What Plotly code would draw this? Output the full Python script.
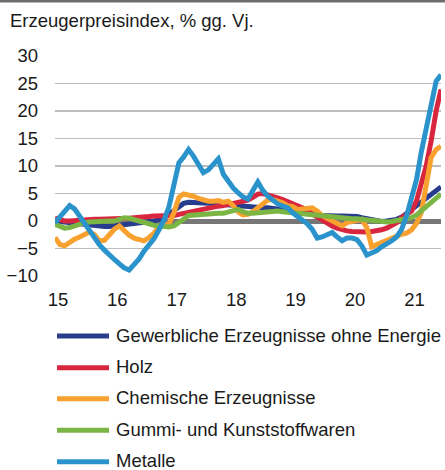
import pandas as pd
import plotly.graph_objects as go

months = pd.date_range("2015-01-01", periods=79, freq="MS")
tick_dates = ["2015-01-19", "2016-01-19", "2017-01-19", "2018-01-19", "2019-01-19", "2020-01-19", "2021-01-19"]
tick_labels = ["15", "16", "17", "18", "19", "20", "21"]
y_ticks = [-10, -5, 0, 5, 10, 15, 20, 25, 30]

title_text = "Erzeugerpreisindex, % gg. Vj."

names = ["Gewerbliche Erzeugnisse ohne Energie", "Holz", "Chemische Erzeugnisse",
         "Gummi- und Kunststoffwaren", "Metalle"]
colors = ["#283C8E", "#D8263F", "#F9A12E", "#7BB543", "#2B93CB"]

gewerbliche = [
    0.0, -0.1, -0.2, -0.3, -0.4, -0.6, -0.8, -0.9, -1.0, -1.0, -1.0, -1.0,
    -0.9, -0.9, -0.8, -0.7, -0.6, -0.5, -0.3, -0.2, 0.0, 0.3, 0.6, 1.2,
    1.9, 2.6, 3.2, 3.4, 3.4, 3.3, 3.2, 3.2, 3.2, 3.1, 3.0, 2.9,
    2.9, 2.7, 2.6, 2.6, 2.6, 2.5, 2.4, 2.4, 2.3, 2.2, 2.1, 1.9,
    1.8, 1.8, 1.7, 1.6, 1.4, 1.2, 1.0, 0.9, 0.9, 0.9, 0.9, 0.9,
    0.9, 0.8, 0.6, 0.4, 0.1, -0.1, -0.1, 0.0, 0.1, 0.3, 0.7, 1.4,
    2.0, 2.7, 3.4, 4.1, 5.0, 5.7, 6.2,
]
holz = [
    0.5, 0.2, 0.0, 0.0, 0.1, 0.2, 0.2, 0.3, 0.3, 0.3, 0.3, 0.4,
    0.4, 0.4, 0.5, 0.5, 0.6, 0.6, 0.7, 0.8, 0.9, 0.9, 0.9, 0.8,
    1.0, 1.2, 1.4, 1.5, 1.7, 1.9, 2.2, 2.4, 2.6, 2.7, 2.8, 3.0,
    3.2, 3.4, 3.5, 3.8, 4.3, 4.9, 5.0, 4.8, 4.6, 4.2, 3.9, 3.5,
    3.1, 2.7, 2.4, 2.0, 1.3, 0.7, 0.1, -0.5, -0.9, -1.3, -1.6, -1.8,
    -1.9, -2.0, -2.0, -2.0, -1.9, -1.8, -1.6, -1.3, -0.9, -0.3, 0.6, 1.2,
    1.8, 3.7, 6.5, 10.0, 14.5, 20.0, 23.9,
]
chemische = [
    -3.0, -4.3, -4.5, -3.8, -3.3, -2.9, -2.5, -2.0, -2.5, -3.6, -3.5, -2.6,
    -1.5, -0.9, -1.8, -2.6, -3.1, -3.4, -3.6, -3.0, -2.2, -1.0, -0.8, -0.6,
    1.5, 4.3, 4.9, 4.8, 4.5, 4.1, 3.8, 3.6, 3.6, 3.7, 3.4, 3.6,
    2.8, 1.6, 1.1, 1.2, 1.7, 2.4, 3.3, 3.8, 3.9, 3.7, 3.3, 2.8,
    2.6, 2.1, 2.2, 2.5, 2.4, 1.8, 1.0, 0.5, 0.0, -0.5, -0.9, -0.3,
    -0.1, 0.3, 0.3, -1.2, -4.7, -4.3, -3.9, -3.4, -3.0, -2.6, -2.4, -2.2,
    -1.6, -0.4, 1.5, 6.5, 11.5, 13.0, 13.6,
]
gummi = [
    -0.6, -1.1, -1.3, -1.2, -0.9, -0.5, -0.3, -0.2, -0.1, -0.1, 0.0, 0.0,
    0.0, 0.4, 0.6, 0.5, 0.3, 0.1, -0.2, -0.5, -0.8, -0.9, -1.0, -1.1,
    -0.9, -0.4, 0.3, 1.0, 1.1, 1.2, 1.2, 1.3, 1.3, 1.4, 1.4, 1.6,
    2.0, 2.1, 1.7, 1.4, 1.4, 1.5, 1.6, 1.7, 1.8, 1.8, 1.7, 1.6,
    1.6, 1.5, 1.4, 1.3, 1.1, 0.9, 0.8, 0.7, 0.6, 0.5, 0.5, 0.5,
    0.4, 0.4, 0.3, 0.2, 0.0, -0.1, -0.2, -0.2, -0.1, 0.1, 0.3, 0.5,
    0.6, 1.1, 1.8, 2.6, 3.6, 4.3, 4.9,
]
metalle = [
    -0.3, 0.8, 1.8, 2.8, 2.2, 0.8, -0.5, -1.8, -3.0, -4.3, -5.3, -6.0,
    -7.0, -7.8, -8.5, -8.9, -8.0, -6.9, -5.5, -4.4, -3.2, -1.6, 0.2, 2.5,
    7.0, 10.6, 11.6, 13.0, 11.8, 10.1, 8.8, 9.3, 10.3, 11.3, 8.5, 7.1,
    6.0, 5.1, 4.4, 4.0, 5.7, 7.1, 5.6, 4.5, 3.8, 3.1, 2.7, 2.4,
    1.5, 0.8, 0.3, -0.5, -1.5, -3.1, -2.9, -2.5, -2.1, -2.9, -3.6, -3.1,
    -3.1, -3.4, -4.5, -6.2, -5.9, -5.4, -4.7, -4.2, -3.6, -2.9, -1.5, 0.9,
    4.0, 7.6, 12.4, 16.6, 21.4, 25.4, 26.6,
]
series = [gewerbliche, holz, chemische, gummi, metalle]

W, H = 445, 470
ML, MR, MT, MB = 55, 4, 56, 194
plot_w = W - ML - MR
plot_h = H - MT - MB
FONT = "Liberation Sans, Arial, sans-serif"
TXT = "#1a1a1a"


def px_x(px):
    return (px - ML) / plot_w


def px_y(py):
    return 1 - (py - MT) / plot_h


fig = go.Figure()
for name, vals, col in zip(names, series, colors):
    fig.add_trace(go.Scatter(
        x=months, y=vals, name=name, mode="lines",
        line=dict(color=col, width=5), showlegend=False,
        hoverinfo="skip",
    ))

# legend drawn as line shapes + text annotations
legend_rows = [336, 367.7, 398.8, 430.2, 461.7]
shapes = [dict(
    type="line", xref="paper", yref="paper",
    x0=px_x(0), x1=px_x(W), y0=px_y(1.3), y1=px_y(1.3),
    line=dict(color="#6E6E6E", width=2.6), layer="above",
)]
annotations = [dict(
    text=title_text, xref="paper", yref="paper",
    x=px_x(8), y=px_y(21), xanchor="left", yanchor="middle", showarrow=False,
    font=dict(family=FONT, size=18.5, color=TXT),
)]
for name, col, ry in zip(names, colors, legend_rows):
    shapes.append(dict(
        type="line", xref="paper", yref="paper",
        x0=px_x(57), x1=px_x(109), y0=px_y(ry), y1=px_y(ry),
        line=dict(color=col, width=5), layer="above",
    ))
    annotations.append(dict(
        text=name, xref="paper", yref="paper",
        x=px_x(114), y=px_y(ry - 1), xanchor="left", yanchor="middle",
        showarrow=False, font=dict(family=FONT, size=18.5, color=TXT),
    ))

fig.update_layout(
    width=W, height=H,
    margin=dict(l=ML, r=MR, t=MT, b=MB, pad=0, autoexpand=False),
    paper_bgcolor="white", plot_bgcolor="white",
    font=dict(family=FONT, size=18.5, color=TXT),
    showlegend=False,
    xaxis=dict(
        range=["2015-01-01", "2021-07-01"],
        tickvals=tick_dates, ticktext=tick_labels,
        showgrid=False, zeroline=False, showline=False, ticks="",
        ticklabelstandoff=10,
    ),
    yaxis=dict(
        range=[-10, 30], tickvals=y_ticks,
        showgrid=True, gridcolor="#BDBDBD", gridwidth=1.2,
        zeroline=True, zerolinecolor="#777777", zerolinewidth=5,
        showline=False, ticks="", ticklabelstandoff=16,
    ),
    annotations=annotations,
    shapes=shapes,
)

fig.write_html(
    "out.html",
    config={"displayModeBar": False, "staticPlot": True},
    post_script="document.body.style.margin='0';document.body.style.padding='0';",
)
